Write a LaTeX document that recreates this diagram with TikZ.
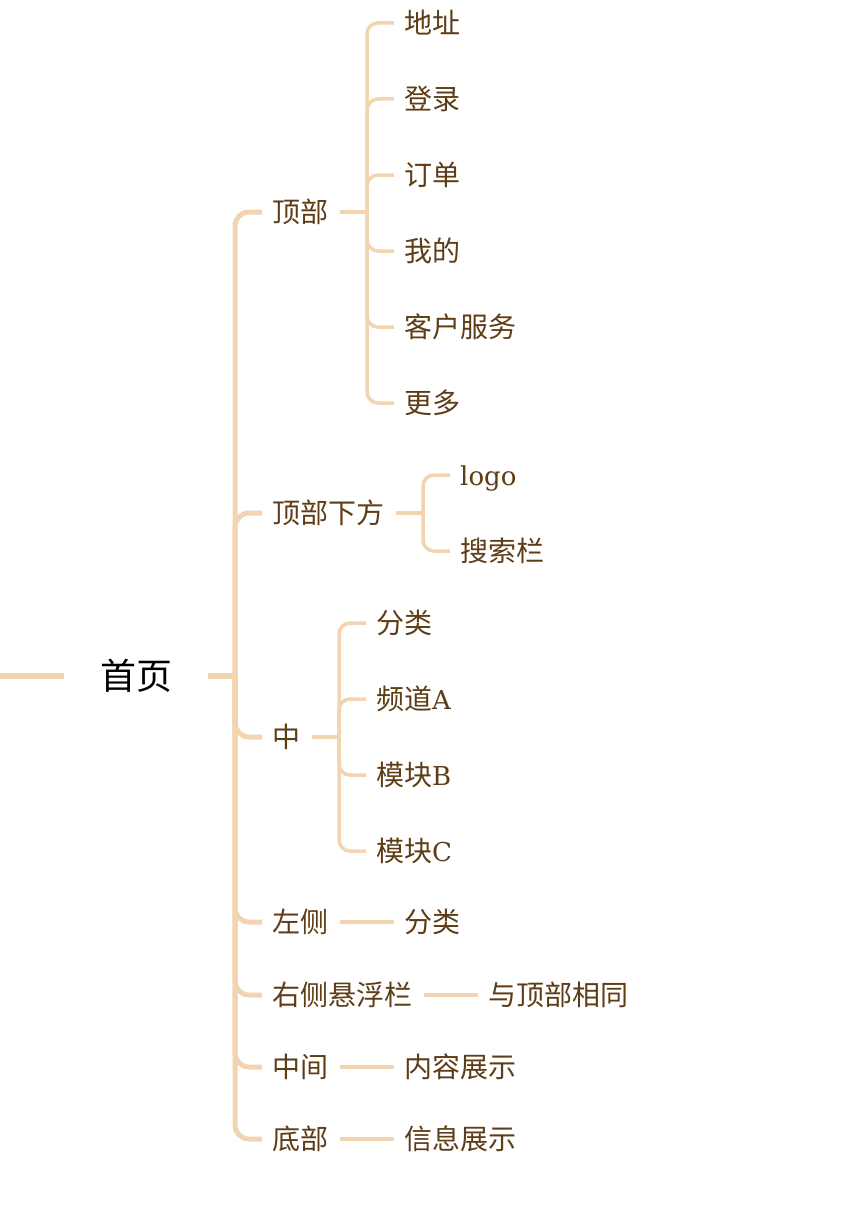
\documentclass[tikz,border=0pt]{standalone}
\usepackage{fontspec}
\setmainfont{Noto Sans CJK SC}
\newfontfamily\latf{DejaVu Serif}
\definecolor{ln}{HTML}{F2D4B0}
\definecolor{tx}{HTML}{5E3C16}
\begin{document}
\begin{tikzpicture}[x=1pt,y=-1pt,
  base/.style={inner ysep=0pt, inner xsep=10pt, text height=23.5pt, text depth=2.3pt, font=\fontsize{28}{28}\selectfont, text=tx, anchor=west},
  rootn/.style={inner ysep=0pt, inner xsep=36pt, text height=30pt, text depth=3pt, font=\fontsize{36}{36}\selectfont, text=black},
  c0/.style={draw=ln, line width=5pt},
  c0r/.style={c0, rounded corners=14pt},
  c1/.style={draw=ln, line width=3.5pt},
  c1r/.style={c1, rounded corners=11pt}]
\useasboundingbox (0,0) rectangle (852,1212);
% root
\node[rootn] (r) at (136,676) {首页};
\coordinate (rin) at (0,676);
\coordinate (t0) at (235,676);
\draw[c0, line width=5.5pt] (rin) -- (r.west);
\draw[c0, line width=5.5pt] (r.east) -- (t0);
% level 1
\node[base] (n1) at (262,212) {顶部};
\node[base] (n2) at (262,513) {顶部下方};
\node[base] (n3) at (262,737) {中};
\node[base] (n4) at (262,922) {左侧};
\node[base] (n5) at (262,995) {右侧悬浮栏};
\node[base] (n6) at (262,1067) {中间};
\node[base] (n7) at (262,1139) {底部};
\foreach \n in {n1,n2,n3,n4,n5,n6,n7}{
  \draw[c0r] (t0) |- (\n.west);
}
% children of 顶部
\node[base] (a1) at (394,23) {地址};
\node[base] (a2) at (394,99) {登录};
\node[base] (a3) at (394,175) {订单};
\node[base] (a4) at (394,251) {我的};
\node[base] (a5) at (394,327) {客户服务};
\node[base] (a6) at (394,403) {更多};
\coordinate (ta) at (367,212);
\draw[c1] ([xshift=2pt]n1.east) -- (ta);
\foreach \n in {a1,a2,a3,a4,a5,a6}{
  \draw[c1r] (ta) |- (\n.west);
}
% children of 顶部下方
\node[base] (b1) at (450,475) {\latf\fontsize{26}{26}\selectfont logo};
\node[base] (b2) at (450,551) {搜索栏};
\coordinate (tb) at (423,513);
\draw[c1] ([xshift=2pt]n2.east) -- (tb);
\foreach \n in {b1,b2}{
  \draw[c1r] (tb) |- (\n.west);
}
% children of 中
\node[base] (m1) at (366,623) {分类};
\node[base] (m2) at (366,699) {频道{\latf\fontsize{26}{26}\selectfont A}};
\node[base] (m3) at (366,775) {模块{\latf\fontsize{26}{26}\selectfont B}};
\node[base] (m4) at (366,851) {模块{\latf\fontsize{26}{26}\selectfont C}};
\coordinate (tm) at (339,737);
\draw[c1] ([xshift=2pt]n3.east) -- (tm);
\foreach \n in {m1,m2,m3,m4}{
  \draw[c1r] (tm) |- (\n.west);
}
% single children
\node[base] (d1) at (394,922) {分类};
\node[base] (e1) at (478,995) {与顶部相同};
\node[base] (f1) at (394,1067) {内容展示};
\node[base] (g1) at (394,1139) {信息展示};
\draw[c1] ([xshift=2pt]n4.east) -- (d1.west);
\draw[c1] ([xshift=2pt]n5.east) -- (e1.west);
\draw[c1] ([xshift=2pt]n6.east) -- (f1.west);
\draw[c1] ([xshift=2pt]n7.east) -- (g1.west);
\end{tikzpicture}
\end{document}
